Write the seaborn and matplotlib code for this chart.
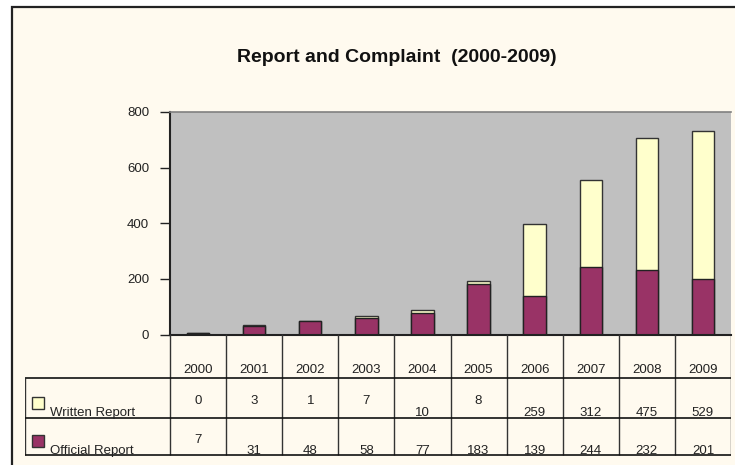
import numpy as np
import pandas as pd
import seaborn as sns
import matplotlib
matplotlib.use('Agg')
import matplotlib.pyplot as plt
from matplotlib.patches import Rectangle

# --- data ---
years = ['2000', '2001', '2002', '2003', '2004', '2005', '2006', '2007', '2008', '2009']
written = [0, 3, 1, 7, 10, 8, 259, 312, 475, 529]
official = [7, 31, 48, 58, 77, 183, 139, 244, 232, 201]
series_names = ['Written Report', 'Official Report']
yticks = [0, 200, 400, 600, 800]

df = pd.DataFrame({'year': years, 'written': written, 'official': official})
df['total'] = df['written'] + df['official']

sns.set_theme(style='white')
plt.rcParams['font.family'] = ['Liberation Sans Narrow', 'Liberation Sans', 'DejaVu Sans']

cream = '#FFFAEF'
yellow = '#FFFFCC'
purple = '#993366'
gray = '#C0C0C0'
W, H = 735, 465
fs = 9.5

fig = plt.figure(figsize=(W / 100, H / 100), dpi=100)
fig.patch.set_facecolor('white')
# chart border / background
fig.add_artist(Rectangle((11.5 / W, -0.05), 1.1, 1 - 6.5 / H + 0.05, transform=fig.transFigure,
                         facecolor=cream, edgecolor='#222222', lw=1.6, zorder=0))

fig.text(397 / W, 1 - 58 / H, 'Report and Complaint  (2000-2009)', ha='center', va='center',
         fontsize=14, fontweight='bold', color='#111111')

# --- bar area ---
left, right, top, bottom = 170, 731, 112, 334.5
ax = fig.add_axes([left / W, (H - bottom) / H, (right - left) / W, (bottom - top) / H])
ax.set_facecolor(gray)
sns.barplot(data=df, x='year', y='total', color=yellow, saturation=1, width=0.4,
            edgecolor='#333333', linewidth=1.0, ax=ax)
sns.barplot(data=df, x='year', y='official', color=purple, saturation=1, width=0.4,
            edgecolor='#222222', linewidth=1.0, ax=ax)
ax.set_xlim(-0.5, 9.5)
ax.set_ylim(0, 800)
ax.set_yticks(yticks)
ax.set_xticks([])
ax.set_xlabel('')
ax.set_ylabel('')
ax.tick_params(axis='y', length=7, width=1, color='#222222', labelsize=fs, pad=8, left=True, labelcolor='#222222')
for s in ['left', 'bottom']:
    ax.spines[s].set_color('#222222')
    ax.spines[s].set_linewidth(1.5)
ax.spines['top'].set_color('#808080')
ax.spines['top'].set_linewidth(1.2)
ax.spines['right'].set_visible(False)

# --- data table ---
col_w = (right - left) / 10
t_left = 25
ax_t = fig.add_axes([t_left / W, 5 / H, (right - t_left) / W, 130 / H])
ax_t.set_xlim(-0.5 - (left - t_left) / col_w, 9.5)
ax_t.set_ylim(460, 330)
ax_t.axis('off')
x0 = -0.5 - (left - t_left) / col_w
lc = '#333333'
# vertical lines between columns
for i in range(11):
    ax_t.vlines(i - 0.5, 334.5, 455, color=lc, lw=1.0)
ax_t.vlines(x0, 378, 455, color=lc, lw=1.0)
for yy in [378, 418, 455]:
    ax_t.hlines(yy, x0, 9.5, color='#111111', lw=1.2)

for i, y in enumerate(years):
    ax_t.text(i, 370, y, ha='center', va='center', fontsize=fs, color='#222222')


def put_value(i, v, y_mid, y_low):
    s = str(v)
    ax_t.text(i, y_mid if len(s) == 1 else y_low, s, ha='center', va='center',
              fontsize=fs, color='#222222')


for i in range(10):
    put_value(i, written[i], 401, 413)
    put_value(i, official[i], 440, 451)

px = 1 / col_w
for name, color, sq_y, ty in [(series_names[0], yellow, 397, 413),
                              (series_names[1], purple, 435, 451)]:
    ax_t.add_patch(Rectangle((x0 + 7 * px, sq_y), 12 * px, 12, facecolor=color,
                             edgecolor='#333333', lw=1.0, clip_on=False))
    ax_t.text(x0 + 25 * px, ty, name, ha='left', va='center', fontsize=fs, color='#222222')

plt.savefig('out.png', dpi=100, facecolor=fig.get_facecolor())
